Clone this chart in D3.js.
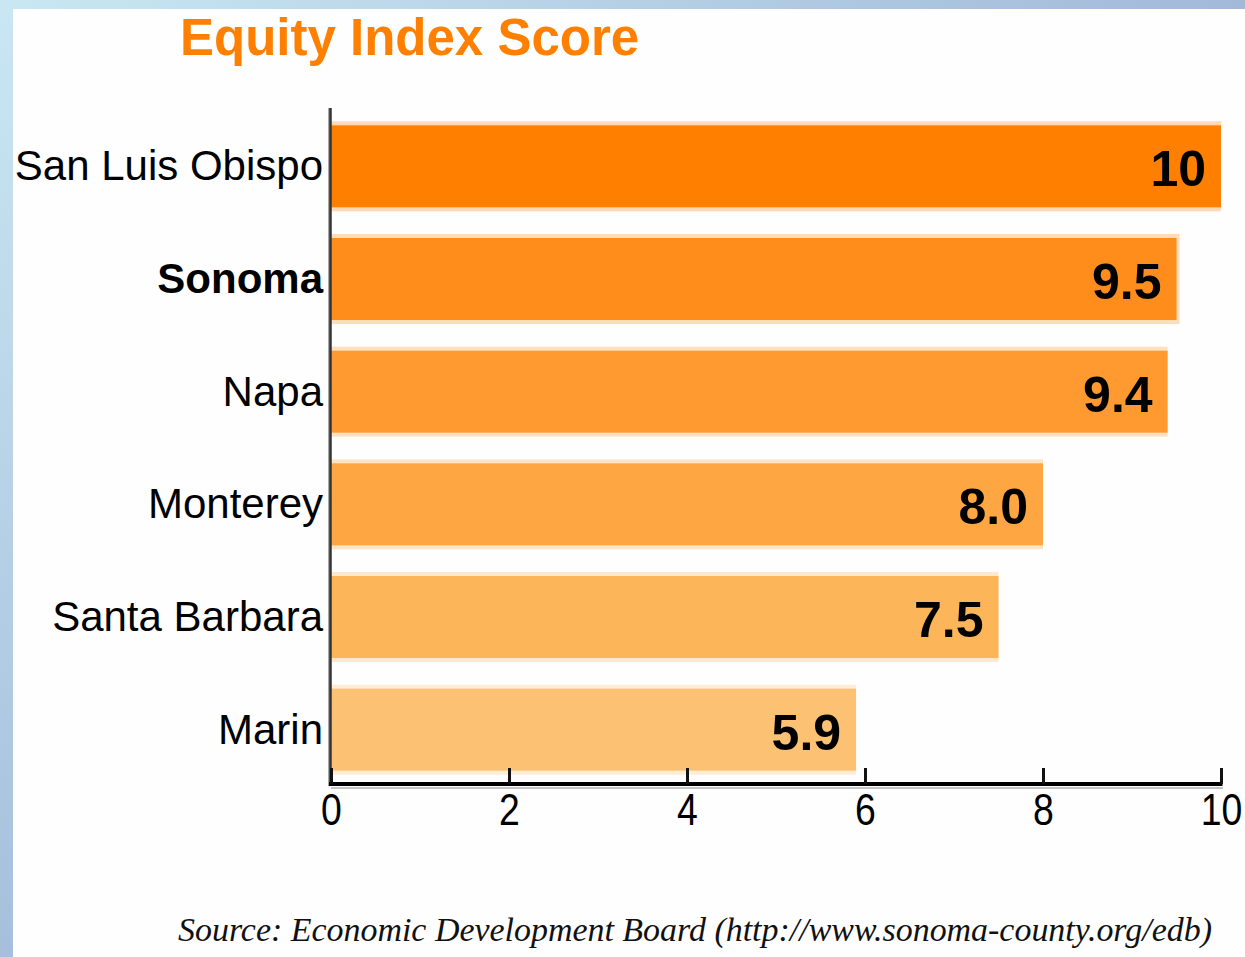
<!DOCTYPE html>
<html>
<head>
<meta charset="utf-8">
<script src="https://cdn.jsdelivr.net/npm/d3@7"></script>
<style>
  html, body { margin: 0; padding: 0; background: #fff; }
  svg { display: block; }
</style>
</head>
<body>
<svg id="chart" width="1245" height="957"></svg>
<script>
// ---- data ----
const categories = ["San Luis Obispo", "Sonoma", "Napa", "Monterey", "Santa Barbara", "Marin"];
const scores = [10, 9.5, 9.4, 8.0, 7.5, 5.9];
const valueLabels = ["10", "9.5", "9.4", "8.0", "7.5", "5.9"];
const barColors = ["#FF8000", "#FE8D1C", "#FE9A30", "#FEA641", "#FDB55A", "#FDC173"];
const xTicks = [0, 2, 4, 6, 8, 10];
const titleText = "Equity Index Score";
const sourceText = "Source: Economic Development Board (http://www.sonoma-county.org/edb)";
const highlighted = "Sonoma";

const svg = d3.select("#chart");

// background frame gradients
const defs = svg.append("defs");
const gTop = defs.append("linearGradient").attr("id", "gTop").attr("x1", 0).attr("x2", 1).attr("y1", 0).attr("y2", 0);
gTop.append("stop").attr("offset", 0).attr("stop-color", "#c9e7f2");
gTop.append("stop").attr("offset", 1).attr("stop-color", "#a2b9d8");
const gLeft = defs.append("linearGradient").attr("id", "gLeft").attr("x1", 0).attr("x2", 0).attr("y1", 0).attr("y2", 1);
gLeft.append("stop").attr("offset", 0).attr("stop-color", "#c9e7f2");
gLeft.append("stop").attr("offset", 1).attr("stop-color", "#a6bfdc");

svg.append("rect").attr("x", 0).attr("y", 0).attr("width", 1245).attr("height", 957).attr("fill", "#fefefe");
svg.append("rect").attr("x", 0).attr("y", 0).attr("width", 13).attr("height", 957).attr("fill", "url(#gLeft)");
svg.append("rect").attr("x", 0).attr("y", 0).attr("width", 1245).attr("height", 9).attr("fill", "url(#gTop)");

// scales
const x = d3.scaleLinear().domain([0, 10]).range([331, 1221]);
const y = d3.scaleBand().domain(categories).range([108, 784]);
const barH = 82;
const barY = d => y(d) + y.bandwidth() / 2 - barH / 2 + 2;

const data = categories.map((c, i) => ({ c, v: scores[i], label: valueLabels[i], color: barColors[i] }));

// bars with light edges
const bars = svg.append("g");
bars.selectAll("rect.edge").data(data).join("rect")
  .attr("class", "edge")
  .attr("x", x(0))
  .attr("y", d => barY(d.c) - 4)
  .attr("width", d => x(d.v) - x(0) + (d.c === highlighted ? 3 : 0))
  .attr("height", barH + 8)
  .attr("fill", d => d3.interpolateRgb(d.color, "#ffffff")(0.7));
bars.selectAll("rect.bar").data(data).join("rect")
  .attr("class", "bar")
  .attr("x", x(0))
  .attr("y", d => barY(d.c))
  .attr("width", d => x(d.v) - x(0))
  .attr("height", barH)
  .attr("fill", d => d.color);

// value labels
svg.append("g").selectAll("text").data(data).join("text")
  .attr("x", d => x(d.v) - 15)
  .attr("y", d => barY(d.c) + barH / 2 + 20)
  .attr("text-anchor", "end")
  .attr("font-family", "Liberation Sans, Arial, sans-serif")
  .attr("font-weight", "bold")
  .attr("font-size", 50)
  .attr("fill", "#000")
  .text(d => d.label);

// category labels
svg.append("g").selectAll("text").data(data).join("text")
  .attr("x", 323)
  .attr("y", d => barY(d.c) + barH / 2 + 14)
  .attr("text-anchor", "end")
  .attr("font-family", "Liberation Sans, Arial, sans-serif")
  .attr("font-weight", d => d.c === highlighted ? "bold" : "normal")
  .attr("font-size", 42)
  .attr("fill", "#000")
  .text(d => d.c);

// vertical axis line
svg.append("line").attr("x1", x(0) - 2).attr("x2", x(0) - 2).attr("y1", 108).attr("y2", 786)
  .attr("stroke", "#8a8a8a").attr("stroke-width", 1.5);
svg.append("line").attr("x1", x(0) - 0.5).attr("x2", x(0) - 0.5).attr("y1", 108).attr("y2", 786)
  .attr("stroke", "#333").attr("stroke-width", 2.5);

// horizontal axis shadow
svg.append("line").attr("x1", x(0)).attr("x2", x(10) + 2).attr("y1", 788).attr("y2", 788)
  .attr("stroke", "#c4c4c4").attr("stroke-width", 2);

// x axis
const xAxis = d3.axisBottom(x).tickValues(xTicks).tickSizeInner(-16).tickSizeOuter(0).tickPadding(10)
  .tickFormat(d3.format("d"));
const gx = svg.append("g").attr("transform", "translate(0,784)").call(xAxis);
gx.select(".domain").attr("stroke", "#000").attr("stroke-width", 4)
  .attr("d", `M${x(0) - 2},0H${x(10) + 1.5}`);
gx.selectAll(".tick line").attr("stroke", "#111").attr("stroke-width", 3);
gx.selectAll(".tick text")
  .attr("font-family", "Liberation Sans, Arial, sans-serif")
  .attr("font-size", 44)
  .attr("fill", "#000")
  .attr("transform", "scale(0.85,1)");

// title
svg.append("text")
  .attr("x", 180).attr("y", 55)
  .attr("font-family", "Liberation Sans, Arial, sans-serif")
  .attr("font-weight", "bold")
  .attr("font-size", 51)
  .attr("fill", "#FF8000")
  .text(titleText);

// source
svg.append("text")
  .attr("x", 178).attr("y", 941)
  .attr("font-family", "Liberation Serif, Times New Roman, serif")
  .attr("font-style", "italic")
  .attr("font-size", 34)
  .attr("fill", "#111")
  .attr("textLength", 1034)
  .attr("lengthAdjust", "spacingAndGlyphs")
  .text(sourceText);
</script>
</body>
</html>
